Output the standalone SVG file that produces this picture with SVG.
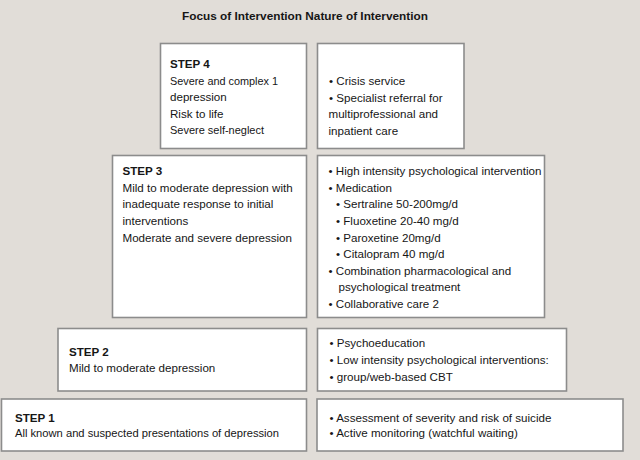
<svg xmlns="http://www.w3.org/2000/svg" width="640" height="460" viewBox="0 0 640 460">
<style>
.box{fill:#ffffff;stroke:#8c8c8c;stroke-width:1.6}
text{font-family:"Liberation Sans",Arial,sans-serif;font-size:11.6px;fill:#161616}
.b{font-weight:bold}
.title{font-weight:bold;font-size:11.8px;text-anchor:middle}
</style>
<rect x="0" y="0" width="640" height="460" fill="#e1ddd8"/>
<text class="title" x="305" y="20">Focus of Intervention Nature of Intervention</text>
<g id="connectors"></g>
<g id="step4-focus">
<rect class="box" x="160.5" y="43.5" width="146" height="105"/>
<text class="b" x="170" y="68">STEP 4</text>
<text x="170" y="84.5" textLength="108" lengthAdjust="spacingAndGlyphs">Severe and complex 1</text>
<text x="170" y="101">depression</text>
<text x="170" y="117.5">Risk to life</text>
<text x="170" y="134" textLength="94" lengthAdjust="spacingAndGlyphs">Severe self-neglect</text>
</g>
<g id="step4-nature">
<rect class="box" x="317.5" y="43.5" width="146.5" height="105"/>
<text x="329" y="85">• Crisis service</text>
<text x="329" y="101.5">• Specialist referral for</text>
<text x="328.5" y="118">multiprofessional and</text>
<text x="328.5" y="134.5">inpatient care</text>
</g>
<g id="step3-focus">
<rect class="box" x="112.5" y="155.5" width="194" height="162"/>
<text class="b" x="122.5" y="175">STEP 3</text>
<text x="122.5" y="191.7">Mild to moderate depression with</text>
<text x="122.5" y="208.3">inadequate response to initial</text>
<text x="122.5" y="225">interventions</text>
<text x="122.5" y="241.7">Moderate and severe depression</text>
</g>
<g id="step3-nature">
<rect class="box" x="317.5" y="155.5" width="227" height="162"/>
<text x="328.5" y="175">• High intensity psychological intervention</text>
<text x="328.5" y="191.7">• Medication</text>
<text x="336" y="208.3">• Sertraline 50-200mg/d</text>
<text x="336" y="225">• Fluoxetine 20-40 mg/d</text>
<text x="336" y="241.7">• Paroxetine 20mg/d</text>
<text x="336" y="258.3">• Citalopram 40 mg/d</text>
<text x="328.5" y="275">• Combination pharmacological and</text>
<text x="338.5" y="291">psychological treatment</text>
<text x="328.5" y="308">• Collaborative care 2</text>
</g>
<g id="step2-focus">
<rect class="box" x="58" y="328.5" width="248.5" height="62.5"/>
<text class="b" x="69" y="355.7">STEP 2</text>
<text x="69" y="371.7">Mild to moderate depression</text>
</g>
<g id="step2-nature">
<rect class="box" x="317.5" y="328.5" width="249" height="62.5"/>
<text x="329.5" y="347">• Psychoeducation</text>
<text x="329.5" y="364">• Low intensity psychological interventions:</text>
<text x="329.5" y="381">• group/web-based CBT</text>
</g>
<g id="step1-focus">
<rect class="box" x="1.5" y="399" width="305" height="52"/>
<text class="b" x="15" y="421.7">STEP 1</text>
<text x="15" y="437.3" textLength="264" lengthAdjust="spacingAndGlyphs">All known and suspected presentations of depression</text>
</g>
<g id="step1-nature">
<rect class="box" x="317" y="399" width="306" height="52"/>
<text x="329.5" y="421.7">• Assessment of severity and risk of suicide</text>
<text x="329.5" y="437.3">• Active monitoring (watchful waiting)</text>
</g>
</svg>
